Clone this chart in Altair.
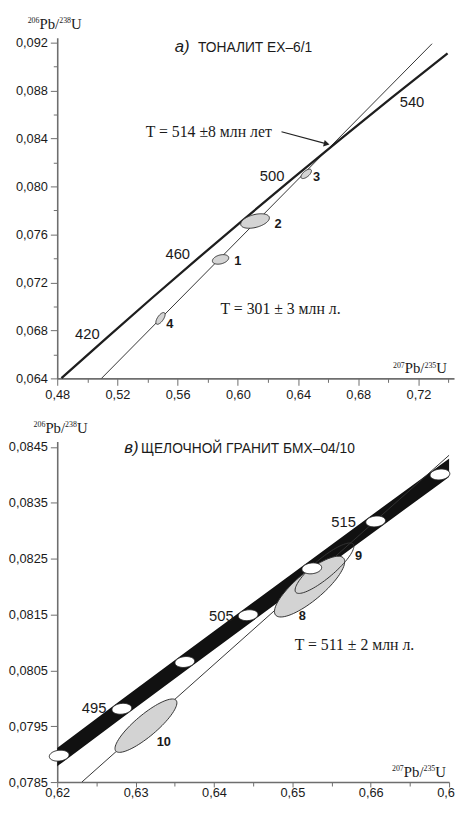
import altair as alt
import numpy as np
import pandas as pd

# ---------------- Panel a: tonalite EX-6/1 ----------------
a_conc_age = [400, 420, 440, 460, 480, 500, 520, 540, 562]
a_conc_x = [0.48281, 0.51231, 0.54239, 0.57307, 0.60437, 0.63628, 0.66883, 0.70203, 0.73931]
a_conc_y = [0.064016, 0.067322, 0.070638, 0.073965, 0.077302, 0.080650, 0.084008, 0.087376, 0.091093]
a_disc_x = [0.5094, 0.7290]
a_disc_y = [0.0640, 0.0919]
a_ell_id = ["1", "2", "3", "4"]
a_ell_cx = [0.5885, 0.6114, 0.6454, 0.5486]
a_ell_cy = [0.07392, 0.07712, 0.08105, 0.0690]
a_ell_sx = [0.00542, 0.00953, 0.00349, 0.00307]
a_ell_sy = [0.000399, 0.000605, 0.000391, 0.000491]
a_ell_rho = [0.32, 0.42, 0.64, 0.67]
a_ell_lab_x = [0.5976, 0.6244, 0.6499, 0.5525]
a_ell_lab_y = [0.07343, 0.07654, 0.08048, 0.06818]
a_age_lab = ["420", "460", "500", "540"]
a_age_lab_x = [0.4918, 0.5519, 0.6146, 0.7075]
a_age_lab_y = [0.06728, 0.07392, 0.08048, 0.08662]
a_arrow_x = [0.6290, 0.6590]
a_arrow_y = [0.08457, 0.08355]
a_xticks = [0.48, 0.50, 0.52, 0.54, 0.56, 0.58, 0.60, 0.62, 0.64, 0.66, 0.68, 0.70, 0.72, 0.74]
a_yticks = [0.064, 0.066, 0.068, 0.070, 0.072, 0.074, 0.076, 0.078, 0.080, 0.082, 0.084,
            0.086, 0.088, 0.090, 0.092]

# ---------------- Panel b: alkaline granite BMKh-04/10 ----------------
b_conc_age = [485, 490, 495, 500, 505, 510, 515, 520, 525]
b_conc_x = [0.61228, 0.62025, 0.62824, 0.63628, 0.64436, 0.65248, 0.66063, 0.66883, 0.67707]
b_conc_y = [0.078137, 0.078973, 0.079812, 0.080650, 0.081488, 0.082327, 0.083167, 0.084008, 0.084849]
b_band_half = 0.000165
b_marker_age = [490, 495, 500, 505, 510, 515, 520]
b_disc_x = [0.62314, 0.67006]
b_disc_y = [0.0785, 0.08436]
b_ell_id = ["10", "8"]
b_ell_cx = [0.63132, 0.6522]
b_ell_cy = [0.07951, 0.0820]
b_ell_sx = [0.00395, 0.00448]
b_ell_sy = [0.000478, 0.000544]
b_ell_rho = [0.856, 0.82]
b_ell9 = dict(cx=0.6541, cy=0.08233, sx=0.00375, sy=0.000452, rho=0.867)
b_ell_lab = ["10", "8", "9"]
b_ell_lab_x = [0.63270, 0.65082, 0.65799]
b_ell_lab_y = [0.07915, 0.08141, 0.08247]
b_age_lab = ["495", "505", "515"]
b_age_lab_x = [0.62314, 0.63937, 0.65497]
b_age_lab_y = [0.07973, 0.08139, 0.08307]
b_xticks = [0.620, 0.625, 0.630, 0.635, 0.640, 0.645, 0.650, 0.655, 0.660, 0.665, 0.670]
b_yticks = [0.0785, 0.0790, 0.0795, 0.0800, 0.0805, 0.0810, 0.0815, 0.0820, 0.0825,
            0.0830, 0.0835, 0.0840, 0.0845]

TXT = "#1a1a1a"
AXC = "#6e6e6e"
SANS = "Liberation Sans"
NARROW = "Liberation Sans Narrow, Liberation Sans"
SERIF = "Liberation Serif"


def ellipse_df(ids, cx, cy, sx, sy, rho, n=80):
    t = np.linspace(0, 2 * np.pi, n + 1)
    frames = []
    for k in range(len(ids)):
        r = rho[k]
        xs = cx[k] + sx[k] * np.cos(t)
        ys = cy[k] + sy[k] * (r * np.cos(t) + np.sqrt(1 - r * r) * np.sin(t))
        frames.append(pd.DataFrame({"id": ids[k], "i": np.arange(n + 1), "x": xs, "y": ys}))
    return pd.concat(frames, ignore_index=True)


def make_axis(vals, fmt, minor_test, tick, pad):
    return alt.Axis(
        values=vals,
        labelExpr=f"({minor_test}) ? '' : replace(format(datum.value, '{fmt}'), '.', ',')",
        tickSize={"condition": {"test": minor_test, "value": 4}, "value": tick},
        tickColor=AXC, tickWidth=1, domainColor=AXC, domainWidth=1.6,
        labelFont=SANS, labelFontSize=13, labelColor=TXT, labelPadding=pad,
        labelFlush=False, labelOverlap=False, grid=False, title=None,
    )


def text_layer(xs, ys, texts, X, Y, **kw):
    df = pd.DataFrame({"x": xs, "y": ys, "t": texts})
    base = dict(align="left", baseline="alphabetic", color=TXT)
    base.update(kw)
    return alt.Chart(df).mark_text(**base).encode(x=X, y=Y, text="t:N")


def ratio_title(x, y, num, den, start, base_dy, X, Y):
    # e.g. 206Pb/238U with small raised mass numbers
    pieces = [(num, start, base_dy - 6, 8), ("Pb/", start + 12, base_dy, 15),
              (den, start + 32, base_dy - 6, 8), ("U", start + 44, base_dy, 15)]
    return [text_layer([x], [y], [t], X, Y, font=SERIF, fontSize=fs, dx=dx, dy=dy)
            for t, dx, dy, fs in pieces]


# ---------------- build panel a ----------------
WA, HA = 403, 346
XA = alt.X("x:Q", scale=alt.Scale(domain=[0.48, 0.7436], nice=False, zero=False),
           axis=make_axis(a_xticks, ".2f", "round(datum.value*100) % 4 != 0", 7, 3))
YA = alt.Y("y:Q", scale=alt.Scale(domain=[0.064, 0.0924], nice=False, zero=False),
           axis=make_axis(a_yticks, ".3f", "round(datum.value*1000) % 4 != 0", 7, 3))

a_conc = alt.Chart(pd.DataFrame({"x": a_conc_x, "y": a_conc_y, "age": a_conc_age})).mark_line(
    color="#1e1e1e", strokeWidth=2.3).encode(x=XA, y=YA, order="age:Q")
a_disc = alt.Chart(pd.DataFrame({"x": a_disc_x, "y": a_disc_y})).mark_line(
    color="#333333", strokeWidth=1).encode(x=XA, y=YA)
a_ell = alt.Chart(ellipse_df(a_ell_id, a_ell_cx, a_ell_cy, a_ell_sx, a_ell_sy, a_ell_rho)).mark_line(
    fill="#d4d4d4", stroke="#333333", strokeWidth=1).encode(x=XA, y=YA, detail="id:N", order="i:Q")
a_arrow = alt.Chart(pd.DataFrame({"x": a_arrow_x, "y": a_arrow_y})).mark_line(
    color="#222222", strokeWidth=1.1).encode(x=XA, y=YA)
a_head = alt.Chart(pd.DataFrame({"x": a_arrow_x[1:], "y": a_arrow_y[1:]})).mark_point(
    shape="triangle-right", filled=True, size=45, angle=14, color="#222222", opacity=1).encode(x=XA, y=YA)

a_texts = [
    text_layer([0.5580], [0.09121], ["а)"], XA, YA, font=SANS, fontSize=17, fontStyle="italic"),
    text_layer([0.5735], [0.09121], ["ТОНАЛИТ ЕХ–6/1"], XA, YA, font=NARROW, fontSize=14),
    text_layer([0.5388], [0.08416], ["T = 514  ±8 млн лет"], XA, YA, font=SERIF, fontSize=16),
    text_layer([0.5885], [0.06933], ["T = 301 ± 3 млн л."], XA, YA, font=SERIF, fontSize=16),
    text_layer(a_age_lab_x, a_age_lab_y, a_age_lab, XA, YA, font=SANS, fontSize=15),
    text_layer(a_ell_lab_x, a_ell_lab_y, a_ell_id, XA, YA, font=NARROW, fontSize=13, fontWeight="bold"),
]
a_titles = (ratio_title(0.48, 0.09314, "206", "238", -30, 0, XA, YA)
            + ratio_title(0.7436, 0.064, "207", "235", -62, -5, XA, YA))

panel_a = alt.layer(a_disc, a_conc, a_ell, a_arrow, a_head, *a_texts, *a_titles).properties(
    width=WA, height=HA)

# ---------------- build panel b ----------------
WB, HB = 398, 346
XB = alt.X("x:Q", scale=alt.Scale(domain=[0.62, 0.67], nice=False, zero=False),
           axis=make_axis(b_xticks, ".2f", "round(datum.value*1000) % 10 != 0", 5, 0))
YB = alt.Y("y:Q", scale=alt.Scale(domain=[0.0785, 0.0846], nice=False, zero=False),
           axis=make_axis(b_yticks, ".4f", "round(datum.value*10000) % 10 != 5", 7, 3))

band_df = pd.DataFrame({"x": b_conc_x, "y": b_conc_y, "age": b_conc_age})
band_df["lo"] = band_df["y"] - b_band_half
band_df["hi"] = band_df["y"] + b_band_half
b_band = alt.Chart(band_df).mark_area(color="#111111", clip=True).encode(
    x=XB, y=alt.Y("lo:Q", scale=alt.Scale(domain=[0.0785, 0.0846], nice=False, zero=False)),
    y2="hi:Q")
b_disc = alt.Chart(pd.DataFrame({"x": b_disc_x, "y": b_disc_y})).mark_line(
    color="#333333", strokeWidth=1, clip=True).encode(x=XB, y=YB)
b_ell = alt.Chart(ellipse_df(b_ell_id, b_ell_cx, b_ell_cy, b_ell_sx, b_ell_sy, b_ell_rho)).mark_line(
    fill="#d3d3d3", stroke="#333333", strokeWidth=1).encode(x=XB, y=YB, detail="id:N", order="i:Q")
b_ell9_l = alt.Chart(ellipse_df(["9"], [b_ell9["cx"]], [b_ell9["cy"]], [b_ell9["sx"]],
                                [b_ell9["sy"]], [b_ell9["rho"]])).mark_line(
    stroke="#333333", strokeWidth=1).encode(x=XB, y=YB, detail="id:N", order="i:Q")
mk_idx = [b_conc_age.index(a) for a in b_marker_age]
b_mk = alt.Chart(ellipse_df([str(a) for a in b_marker_age],
                            [b_conc_x[i] for i in mk_idx], [b_conc_y[i] for i in mk_idx],
                            [0.00126] * len(mk_idx), [0.000098] * len(mk_idx),
                            [0.15] * len(mk_idx))).mark_line(
    fill="#ffffff", stroke="#222222", strokeWidth=1).encode(
    x=XB, y=YB, detail="id:N", order="i:Q")

b_texts = [
    text_layer([0.62855], [0.08439], ["в)"], XB, YB, font=SANS, fontSize=17, fontStyle="italic"),
    text_layer([0.63069], [0.08439], ["ЩЕЛОЧНОЙ ГРАНИТ БМХ–04/10"], XB, YB, font=NARROW, fontSize=14),
    text_layer([0.65031], [0.08086], ["T = 511 ± 2 млн л."], XB, YB, font=SERIF, fontSize=16),
    text_layer(b_age_lab_x, b_age_lab_y, b_age_lab, XB, YB, font=SANS, fontSize=15),
    text_layer(b_ell_lab_x, b_ell_lab_y, b_ell_lab, XB, YB, font=NARROW, fontSize=13, fontWeight="bold"),
]
b_titles = (ratio_title(0.62, 0.084759, "206", "238", -24, 0, XB, YB)
            + ratio_title(0.67, 0.0785, "207", "235", -58, -5, XB, YB))

panel_b = alt.layer(b_band, b_disc, b_ell, b_ell9_l, b_mk, *b_texts, *b_titles).properties(
    width=WB, height=HB)

chart = alt.vconcat(panel_a, panel_b, spacing=19).properties(
    padding={"left": 0, "top": 2, "right": -7, "bottom": -7},
    background="white",
).configure_view(stroke=None)

chart.save("out.html", embed_options={"renderer": "svg", "actions": False})
